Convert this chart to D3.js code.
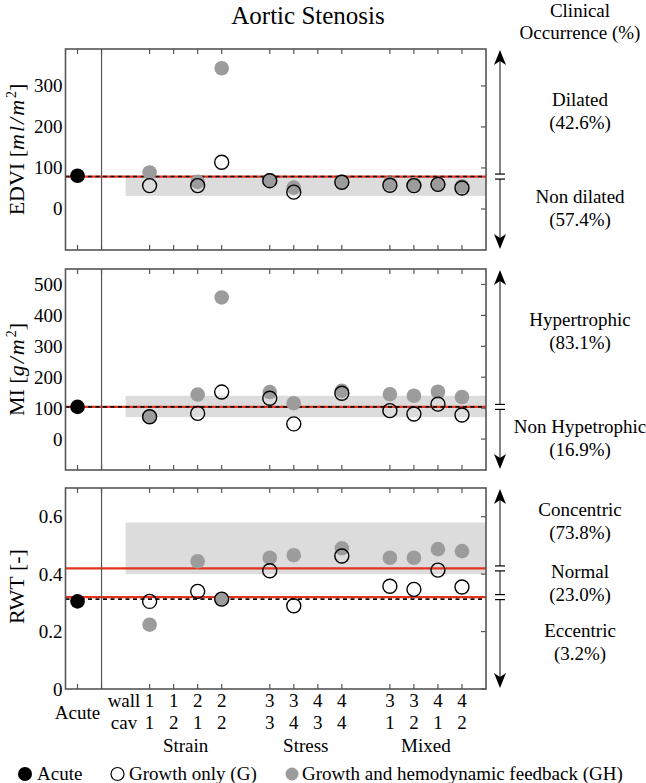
<!DOCTYPE html>
<html>
<head>
<meta charset="utf-8">
<script src="https://cdn.jsdelivr.net/npm/d3@7"></script>
<style>
  body { margin: 0; background: #fff; }
</style>
</head>
<body>
<div class="chart"></div>
<script>
// categories (wall / cav growth laws) and groups
const wallLabels = ["1","1","2","2","3","3","4","4","3","3","4","4"]
const cavLabels  = ["1","2","1","2","3","4","3","4","1","2","1","2"]
const groupLabels = ["Strain","Stress","Mixed"]

// EDVI [ml/m2]
const edviG  = [57, null, 57, 114, 69, 41, null, 65, 58, 57, 60, 51]
const edviGH = [89, null, 66, 343, 70, 52, null, 66, 62, 60, 60, 55]
// MI [g/m2]
const miG  = [72, null, 83, 152, 132, 49, null, 148, 92, 81, 113, 78]
const miGH = [72, null, 144, 458, 152, 116, null, 156, 145, 140, 153, 136]
// RWT [-]
const rwtG  = [0.305, null, 0.34, 0.313, 0.412, 0.29, null, 0.463, 0.358, 0.347, 0.414, 0.355]
const rwtGH = [0.224, null, 0.445, 0.313, 0.457, 0.466, null, 0.49, 0.457, 0.457, 0.487, 0.48]

// acute value, reference (dashed) line, clinical thresholds (red), normal range (grey)
const acuteValues = [81, 104, 0.305]
const dashedRef   = [79, 104, 0.313]
const thresholds  = [[79], [104], [0.42, 0.32]]
const normalRange = [[32, 78], [71, 140], [0.40, 0.58]]

const yDomains = [[-100, 390], [-100, 550], [0, 0.7]]
const yTicks   = [[0, 100, 200, 300], [0, 100, 200, 300, 400, 500], [0, 0.2, 0.4, 0.6]]

const classes = [
  [["Dilated", "(42.6%)"], ["Non dilated", "(57.4%)"]],
  [["Hypertrophic", "(83.1%)"], ["Non Hypetrophic", "(16.9%)"]],
  [["Concentric", "(73.8%)"], ["Normal", "(23.0%)"], ["Eccentric", "(3.2%)"]]
]

const panelData = [
  {g: edviG, gh: edviGH},
  {g: miG, gh: miGH},
  {g: rwtG, gh: rwtGH}
]

// layout
const width = 646, height = 783
const left = 65.5, right = 486
const tops = [49, 269, 488], bottoms = [250, 470, 689]
const frameColor = "#555"
const red = "#e5331b"
const greyFill = "#9c9c9c"
const font = "'Liberation Serif', 'DejaVu Serif', serif"

const svg = d3.select(".chart").append("svg")
  .attr("width", width).attr("height", height)
  .attr("font-family", font)
  .style("font-family", font)

const xScale = d3.scaleLinear().domain([0.5, 18]).range([left, right])
// category index -> slot (acute = 1, separator = 2, gaps between groups)
const slot = i => 4 + i + Math.floor(i / 4)
const tickSlots = [1, 2].concat(wallLabels.map((d, i) => slot(i)))

svg.append("text")
  .attr("x", 308).attr("y", 24)
  .attr("text-anchor", "middle")
  .attr("font-size", 25)
  .text("Aortic Stenosis")

svg.append("text").attr("x", 580).attr("y", 17)
  .attr("text-anchor", "middle").attr("font-size", 19).text("Clinical")
svg.append("text").attr("x", 580).attr("y", 39)
  .attr("text-anchor", "middle").attr("font-size", 19).text("Occurrence (%)")

function arrowHead(g, x, y, dir) {
  // dir = -1 points up, 1 points down
  const p = d3.path()
  p.moveTo(x, y)
  p.lineTo(x + 6, y - dir * 15)
  p.lineTo(x, y - dir * 11)
  p.lineTo(x - 6, y - dir * 15)
  p.closePath()
  g.append("path").attr("d", p.toString()).attr("fill", "#000")
}

// label centres (y) for the clinical classes
const classY = [[100, 197], [320, 427], [510, 572, 631]]

panelData.forEach((pd, k) => {
  const top = tops[k], bottom = bottoms[k]
  const yScale = d3.scaleLinear().domain(yDomains[k]).range([bottom, top])
  const g = svg.append("g")

  // grey normal range
  g.append("rect")
    .attr("x", xScale(3)).attr("width", right - xScale(3))
    .attr("y", yScale(normalRange[k][1]))
    .attr("height", yScale(normalRange[k][0]) - yScale(normalRange[k][1]))
    .attr("fill", "#dcdcdc")

  // red thresholds
  g.selectAll(".thr").data(thresholds[k]).join("line")
    .attr("x1", left).attr("x2", right)
    .attr("y1", d => yScale(d)).attr("y2", d => yScale(d))
    .attr("stroke", red).attr("stroke-width", 2.2)

  // dashed reference
  g.append("line")
    .attr("x1", left).attr("x2", right)
    .attr("y1", yScale(dashedRef[k])).attr("y2", yScale(dashedRef[k]))
    .attr("stroke", "#111").attr("stroke-width", 1.6)
    .attr("stroke-dasharray", "4,3.5")

  // separator after acute
  g.append("line")
    .attr("x1", xScale(2)).attr("x2", xScale(2))
    .attr("y1", top).attr("y2", bottom)
    .attr("stroke", frameColor).attr("stroke-width", 1.2)

  // ticks (inside, top/bottom/right)
  tickSlots.forEach(s => {
    g.append("line").attr("x1", xScale(s)).attr("x2", xScale(s))
      .attr("y1", top).attr("y2", top + 5).attr("stroke", frameColor).attr("stroke-width", 1.2)
    g.append("line").attr("x1", xScale(s)).attr("x2", xScale(s))
      .attr("y1", bottom).attr("y2", bottom - 5).attr("stroke", frameColor).attr("stroke-width", 1.2)
  })
  yTicks[k].forEach(v => {
    g.append("line").attr("x1", right).attr("x2", right - 5)
      .attr("y1", yScale(v)).attr("y2", yScale(v)).attr("stroke", frameColor).attr("stroke-width", 1.2)
    g.append("text")
      .attr("x", left - 3).attr("y", yScale(v) + 6.5)
      .attr("text-anchor", "end")
      .attr("font-size", 19)
      .text(String(v))
  })

  // frame
  g.append("rect")
    .attr("x", left).attr("y", top)
    .attr("width", right - left).attr("height", bottom - top)
    .attr("fill", "none").attr("stroke", frameColor).attr("stroke-width", 1.6)

  // markers: GH below, G rings on top
  const idx = pd.g.map((d, i) => i)
  g.selectAll(".gh").data(idx.filter(i => pd.gh[i] != null)).join("circle")
    .attr("cx", i => xScale(slot(i))).attr("cy", i => yScale(pd.gh[i]))
    .attr("r", 7.3).attr("fill", greyFill)
  g.selectAll(".g").data(idx.filter(i => pd.g[i] != null)).join("circle")
    .attr("cx", i => xScale(slot(i))).attr("cy", i => yScale(pd.g[i]))
    .attr("r", 7).attr("fill", "none").attr("stroke", "#000").attr("stroke-width", 1.4)
  g.append("circle")
    .attr("cx", xScale(1)).attr("cy", yScale(acuteValues[k]))
    .attr("r", 7.3).attr("fill", "#000")

  // clinical occurrence arrow with breaks at thresholds
  const ax = 500
  const breaks = thresholds[k].map(d => yScale(d)).sort((a, b) => a - b)
  const stops = [top + 4].concat(...breaks.map(b => [b - 2.5, b + 2.5]), [bottom - 4])
  for (let j = 0; j < stops.length; j += 2) {
    g.append("line").attr("x1", ax).attr("x2", ax)
      .attr("y1", stops[j]).attr("y2", stops[j + 1])
      .attr("stroke", "#333").attr("stroke-width", 1.2)
  }
  breaks.forEach(b => {
    [-2.5, 2.5].forEach(o => {
      g.append("line").attr("x1", ax - 5).attr("x2", ax + 5)
        .attr("y1", b + o).attr("y2", b + o)
        .attr("stroke", "#000").attr("stroke-width", 1.2)
    })
  })
  arrowHead(g, ax, top + 1, -1)
  arrowHead(g, ax, bottom - 1, 1)

  classes[k].forEach((c, j) => {
    const cy = classY[k][j]
    g.append("text").attr("x", 580).attr("y", cy + 6)
      .attr("text-anchor", "middle").attr("font-size", 19).text(c[0])
    g.append("text").attr("x", 580).attr("y", cy + 29)
      .attr("text-anchor", "middle").attr("font-size", 19).text(c[1])
  })
})

// y axis labels, centred on measured length
function yLabel(cy, parts) {
  const t = svg.append("text")
    .attr("font-size", 22)
  parts.forEach(p => {
    const s = t.append("tspan").text(p.t)
    if (p.i) s.attr("font-style", "italic").attr("letter-spacing", 2)
    if (p.sup) s.attr("font-size", 14).attr("dy", -8)
    if (p.after) s.attr("dy", 8)
  })
  const len = t.node().getComputedTextLength()
  t.attr("transform", `translate(24,${cy + len / 2}) rotate(-90)`)
}
yLabel((tops[0] + bottoms[0]) / 2, [{t: "EDVI ["}, {t: "ml/m", i: 1}, {t: "2", sup: 1}, {t: "]", after: 1}])
yLabel((tops[1] + bottoms[1]) / 2, [{t: "MI ["}, {t: "g/m", i: 1}, {t: "2", sup: 1}, {t: "]", after: 1}])
yLabel((tops[2] + bottoms[2]) / 2 - 2, [{t: "RWT [-]"}])

// x labels
const xl = svg.append("g").attr("font-size", 19).attr("text-anchor", "middle")
xl.append("text").attr("x", xScale(1)).attr("y", 719).text("Acute")
xl.append("text").attr("x", 124).attr("y", 707).text("wall")
xl.append("text").attr("x", 124).attr("y", 729).text("cav")
wallLabels.forEach((d, i) => {
  xl.append("text").attr("x", xScale(slot(i))).attr("y", 707).text(d)
  xl.append("text").attr("x", xScale(slot(i))).attr("y", 729).text(cavLabels[i])
})
groupLabels.forEach((d, gi) => {
  const cx = (xScale(slot(gi * 4)) + xScale(slot(gi * 4 + 3))) / 2
  xl.append("text").attr("x", cx).attr("y", 752).text(d)
})

// legend
const lg = svg.append("g").attr("font-size", 19)
lg.append("circle").attr("cx", 25).attr("cy", 774).attr("r", 7).attr("fill", "#000")
lg.append("text").attr("x", 37).attr("y", 780).text("Acute")
lg.append("circle").attr("cx", 117.5).attr("cy", 774).attr("r", 6.5)
  .attr("fill", "none").attr("stroke", "#000").attr("stroke-width", 1.2)
lg.append("text").attr("x", 129).attr("y", 780).text("Growth only (G)")
lg.append("circle").attr("cx", 292).attr("cy", 774).attr("r", 6.5).attr("fill", greyFill)
lg.append("text").attr("x", 302).attr("y", 780).text("Growth and hemodynamic feedback (GH)")
</script>
</body>
</html>
